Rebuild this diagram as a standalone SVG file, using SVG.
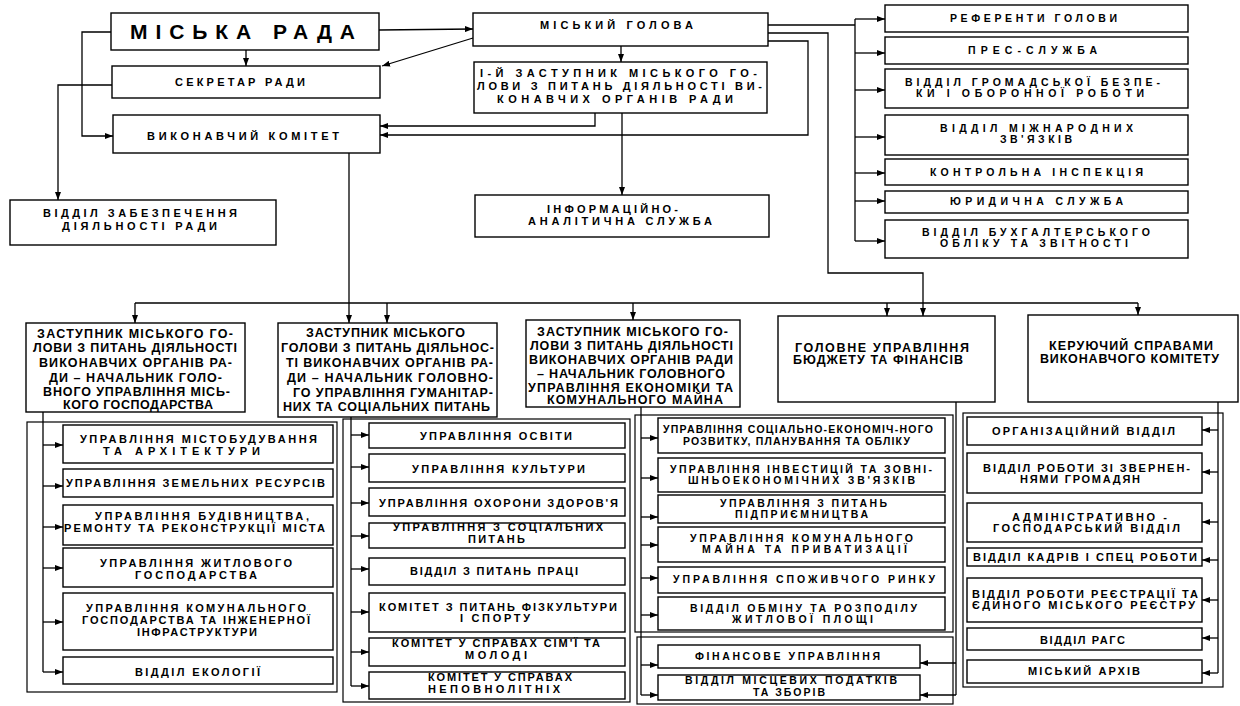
<svg xmlns="http://www.w3.org/2000/svg" width="1240" height="706" viewBox="0 0 1240 706">
<style>
.bx{fill:#fff;stroke:#000;stroke-width:1.4}
.fr{fill:none;stroke:#000;stroke-width:1.2}
.c{fill:none;stroke:#000;stroke-width:1.3}
text{font-family:"Liberation Sans","DejaVu Sans",sans-serif;font-weight:bold;fill:#000}
.f21{font-size:21px}
.f11{font-size:11px}
.f10{font-size:10.5px}
.f12{font-size:12.5px}
.fb{font-size:11px}
.fc{font-size:10.5px}
</style>
<defs>
<marker id="ah" markerWidth="8" markerHeight="6" refX="8" refY="3" orient="auto" markerUnits="userSpaceOnUse"><path d="M0,0 L8,3 L0,6 Z" fill="#000"/></marker>
</defs>
<rect width="1240" height="706" fill="#fff"/>

<g id="frames">
<rect class="fr" x="27" y="422" width="310" height="270"/>
<rect class="fr" x="343" y="419" width="287" height="283"/>
<rect class="fr" x="635" y="415" width="318" height="217"/>
<rect class="fr" x="637" y="637" width="316" height="67"/>
<rect class="fr" x="963" y="413" width="260" height="274"/>
</g>

<g id="connectors" class="c">
<path d="M379,30 L473,29" marker-end="url(#ah)"/>
<path d="M473,38 L382,66" marker-end="url(#ah)"/>
<path d="M246,50 V66" marker-end="url(#ah)"/>
<path d="M111,32 H82 V136 H113" marker-end="url(#ah)"/>
<path d="M112,85 H58 V200" marker-end="url(#ah)"/>
<path d="M621,46 V62" marker-end="url(#ah)"/>
<path d="M595,113 V126 H380" marker-end="url(#ah)"/>
<path d="M768,41 H808 V135 H380" marker-end="url(#ah)"/>
<path d="M622,113 V195" marker-end="url(#ah)"/>
<path d="M768,25 H855"/>
<path d="M855,19 V241"/>
<path d="M855,19 H885" marker-end="url(#ah)"/>
<path d="M855,53 H885" marker-end="url(#ah)"/>
<path d="M855,90 H885" marker-end="url(#ah)"/>
<path d="M855,137 H885" marker-end="url(#ah)"/>
<path d="M855,173 H885" marker-end="url(#ah)"/>
<path d="M855,201 H885" marker-end="url(#ah)"/>
<path d="M855,241 H885" marker-end="url(#ah)"/>
<path d="M768,33 H828 V273 H923 V316" marker-end="url(#ah)"/>
<path d="M349,153 V323" marker-end="url(#ah)"/>
<path d="M135,303 H1138"/>
<path d="M135,303 V323" marker-end="url(#ah)"/>
<path d="M387,303 V323" marker-end="url(#ah)"/>
<path d="M633,303 V320" marker-end="url(#ah)"/>
<path d="M887,303 V316" marker-end="url(#ah)"/>
<path d="M1138,303 V315" marker-end="url(#ah)"/>
<path d="M43,412 V672"/>
<path d="M43,445 H63" marker-end="url(#ah)"/>
<path d="M43,486 H63" marker-end="url(#ah)"/>
<path d="M43,527 H63" marker-end="url(#ah)"/>
<path d="M43,568 H63" marker-end="url(#ah)"/>
<path d="M43,622 H63" marker-end="url(#ah)"/>
<path d="M43,672 H63" marker-end="url(#ah)"/>
<path d="M351,417 V686"/>
<path d="M351,435 H369" marker-end="url(#ah)"/>
<path d="M351,467 H369" marker-end="url(#ah)"/>
<path d="M351,503 H369" marker-end="url(#ah)"/>
<path d="M351,536 H369" marker-end="url(#ah)"/>
<path d="M351,569 H369" marker-end="url(#ah)"/>
<path d="M351,612 H369" marker-end="url(#ah)"/>
<path d="M351,652 H369" marker-end="url(#ah)"/>
<path d="M351,686 H369" marker-end="url(#ah)"/>
<path d="M641,407 V695"/>
<path d="M641,438 H658" marker-end="url(#ah)"/>
<path d="M641,478 H658" marker-end="url(#ah)"/>
<path d="M641,517 H658" marker-end="url(#ah)"/>
<path d="M641,545 H658" marker-end="url(#ah)"/>
<path d="M641,578 H658" marker-end="url(#ah)"/>
<path d="M641,615 H658" marker-end="url(#ah)"/>
<path d="M641,665 H658" marker-end="url(#ah)"/>
<path d="M641,695 H658" marker-end="url(#ah)"/>
<path d="M956,402 V695"/>
<path d="M956,663 H920" marker-end="url(#ah)"/>
<path d="M956,695 H920" marker-end="url(#ah)"/>
<path d="M1218,402 V673"/>
<path d="M1218,430 H1202" marker-end="url(#ah)"/>
<path d="M1218,472 H1202" marker-end="url(#ah)"/>
<path d="M1218,522 H1202" marker-end="url(#ah)"/>
<path d="M1218,560 H1202" marker-end="url(#ah)"/>
<path d="M1218,600 H1202" marker-end="url(#ah)"/>
<path d="M1218,638 H1202" marker-end="url(#ah)"/>
<path d="M1218,673 H1202" marker-end="url(#ah)"/>
</g>

<g id="n-miska-rada"><rect class="bx" x="111" y="13" width="268" height="37"/>
<text class="f21" x="130" y="39" textLength="225">МІСЬКА РАДА</text></g>
<g id="n-sekretar"><rect class="bx" x="112" y="66" width="268" height="32"/>
<text class="f11" x="175" y="86" textLength="130">СЕКРЕТАР РАДИ</text></g>
<g id="n-vykonkom"><rect class="bx" x="113" y="115" width="267" height="38"/>
<text class="f11" x="147" y="140" textLength="192">ВИКОНАВЧИЙ КОМІТЕТ</text></g>
<g id="n-zabezpech"><rect class="bx" x="10" y="200" width="266" height="45"/>
<text class="f11" x="43" y="217" textLength="194">ВІДДІЛ ЗАБЕЗПЕЧЕННЯ</text>
<text class="f11" x="62" y="230" textLength="155">ДІЯЛЬНОСТІ РАДИ</text></g>
<g id="n-holova"><rect class="bx" x="473" y="13" width="295" height="33"/>
<text class="f11" x="540" y="29" textLength="153">МІСЬКИЙ ГОЛОВА</text></g>
<g id="n-1zast"><rect class="bx" x="474" y="62" width="293" height="51"/>
<text class="f11" x="480" y="77" textLength="277">І-Й ЗАСТУПНИК МІСЬКОГО ГО-</text>
<text class="f11" x="477" y="90" textLength="285">ЛОВИ З ПИТАНЬ ДІЯЛЬНОСТІ ВИ-</text>
<text class="f11" x="497" y="103" textLength="236">КОНАВЧИХ ОРГАНІВ РАДИ</text></g>
<g id="n-inform"><rect class="bx" x="475" y="195" width="294" height="42"/>
<text class="f11" x="547" y="213" textLength="131">ІНФОРМАЦІЙНО-</text>
<text class="f11" x="528" y="225" textLength="184">АНАЛІТИЧНА СЛУЖБА</text></g>

<g id="n-referenty"><rect class="bx" x="885" y="5" width="303" height="27"/>
<text class="f10" x="950" y="22" textLength="167">РЕФЕРЕНТИ ГОЛОВИ</text></g>
<g id="n-pres"><rect class="bx" x="885" y="37" width="303" height="27"/>
<text class="f10" x="968" y="54" textLength="129">ПРЕС-СЛУЖБА</text></g>
<g id="n-bezpeka"><rect class="bx" x="885" y="69" width="303" height="39"/>
<text class="f10" x="905" y="86" textLength="255">ВІДДІЛ ГРОМАДСЬКОЇ БЕЗПЕ-</text>
<text class="f10" x="916" y="97" textLength="228">КИ І ОБОРОННОЇ РОБОТИ</text></g>
<g id="n-mizhnar"><rect class="bx" x="885" y="115" width="303" height="40"/>
<text class="f10" x="940" y="132" textLength="193">ВІДДІЛ МІЖНАРОДНИХ</text>
<text class="f10" x="1000" y="143" textLength="72">ЗВ'ЯЗКІВ</text></g>
<g id="n-kontrol"><rect class="bx" x="885" y="159" width="303" height="26"/>
<text class="f10" x="930" y="176" textLength="213">КОНТРОЛЬНА ІНСПЕКЦІЯ</text></g>
<g id="n-yuryd"><rect class="bx" x="885" y="191" width="303" height="22"/>
<text class="f10" x="950" y="205" textLength="173">ЮРИДИЧНА СЛУЖБА</text></g>
<g id="n-bukh"><rect class="bx" x="885" y="220" width="303" height="38"/>
<text class="f10" x="922" y="236" textLength="228">ВІДДІЛ БУХГАЛТЕРСЬКОГО</text>
<text class="f10" x="940" y="247" textLength="188">ОБЛІКУ ТА ЗВІТНОСТІ</text></g>

<g id="n-dep1"><rect class="bx" x="26" y="323" width="219" height="89"/>
<text class="f12" x="37" y="338" textLength="196">ЗАСТУПНИК МІСЬКОГО ГО-</text>
<text class="f12" x="33" y="352" textLength="204">ЛОВИ З ПИТАНЬ ДІЯЛЬНОСТІ</text>
<text class="f12" x="39" y="367" textLength="193">ВИКОНАВЧИХ ОРГАНІВ РА-</text>
<text class="f12" x="49" y="382" textLength="173">ДИ – НАЧАЛЬНИК ГОЛО-</text>
<text class="f12" x="43" y="396" textLength="187">ВНОГО УПРАВЛІННЯ МІСЬ-</text>
<text class="f12" x="63" y="409" textLength="150">КОГО ГОСПОДАРСТВА</text></g>
<g id="n-dep2"><rect class="bx" x="278" y="323" width="219" height="94"/>
<text class="f12" x="306" y="337" textLength="159">ЗАСТУПНИК МІСЬКОГО</text>
<text class="f12" x="281" y="352" textLength="213">ГОЛОВИ З ПИТАНЬ ДІЯЛЬНОС-</text>
<text class="f12" x="286" y="367" textLength="207">ТІ ВИКОНАВЧИХ ОРГАНІВ РА-</text>
<text class="f12" x="287" y="382" textLength="206">ДИ – НАЧАЛЬНИК ГОЛОВНО-</text>
<text class="f12" x="293" y="397" textLength="200">ГО УПРАВЛІННЯ ГУМАНІТАР-</text>
<text class="f12" x="283" y="411" textLength="207">НИХ ТА СОЦІАЛЬНИХ ПИТАНЬ</text></g>
<g id="n-dep3"><rect class="bx" x="526" y="320" width="214" height="87"/>
<text class="f12" x="537" y="336" textLength="191">ЗАСТУПНИК МІСЬКОГО ГО-</text>
<text class="f12" x="530" y="350" textLength="203">ЛОВИ З ПИТАНЬ ДІЯЛЬНОСТІ</text>
<text class="f12" x="529" y="364" textLength="204">ВИКОНАВЧИХ ОРГАНІВ РАДИ</text>
<text class="f12" x="537" y="378" textLength="188">– НАЧАЛЬНИК ГОЛОВНОГО</text>
<text class="f12" x="528" y="392" textLength="205">УПРАВЛІННЯ  ЕКОНОМІКИ ТА</text>
<text class="f12" x="547" y="404" textLength="176">КОМУНАЛЬНОГО МАЙНА</text></g>
<g id="n-holovne"><rect class="bx" x="778" y="316" width="217" height="86"/>
<text class="f12" x="795" y="352" textLength="174">ГОЛОВНЕ УПРАВЛІННЯ</text>
<text class="f12" x="793" y="364" textLength="170">БЮДЖЕТУ ТА ФІНАНСІВ</text></g>
<g id="n-keruyuchyi"><rect class="bx" x="1028" y="315" width="210" height="87"/>
<text class="f12" x="1049" y="350" textLength="164">КЕРУЮЧИЙ СПРАВАМИ</text>
<text class="f12" x="1040" y="363" textLength="179">ВИКОНАВЧОГО КОМІТЕТУ</text></g>

<g id="n-c1-1"><rect class="bx" x="63" y="425" width="270" height="38"/>
<text class="fb" x="80" y="443" textLength="237">УПРАВЛІННЯ МІСТОБУДУВАННЯ</text>
<text class="fb" x="103" y="455" textLength="157">ТА АРХІТЕКТУРИ</text></g>
<g id="n-c1-2"><rect class="bx" x="63" y="469" width="270" height="28"/>
<text class="fb" x="66" y="487" textLength="259">УПРАВЛІННЯ ЗЕМЕЛЬНИХ РЕСУРСІВ</text></g>
<g id="n-c1-3"><rect class="bx" x="63" y="505" width="270" height="40"/>
<text class="fb" x="95" y="520" textLength="214">УПРАВЛІННЯ БУДІВНИЦТВА,</text>
<text class="fb" x="64" y="532" textLength="261">РЕМОНТУ ТА РЕКОНСТРУКЦІЇ МІСТА</text></g>
<g id="n-c1-4"><rect class="bx" x="63" y="548" width="270" height="39"/>
<text class="fb" x="100" y="567" textLength="192">УПРАВЛІННЯ ЖИТЛОВОГО</text>
<text class="fb" x="135" y="579" textLength="122">ГОСПОДАРСТВА</text></g>
<g id="n-c1-5"><rect class="bx" x="63" y="593" width="270" height="57"/>
<text class="fb" x="86" y="612" textLength="220">УПРАВЛІННЯ КОМУНАЛЬНОГО</text>
<text class="fb" x="82" y="624" textLength="228">ГОСПОДАРСТВА ТА ІНЖЕНЕРНОЇ</text>
<text class="fb" x="137" y="636" textLength="120">ІНФРАСТРУКТУРИ</text></g>
<g id="n-c1-6"><rect class="bx" x="63" y="657" width="270" height="27"/>
<text class="fb" x="135" y="676" textLength="125">ВІДДІЛ ЕКОЛОГІЇ</text></g>

<g id="n-c2-1"><rect class="bx" x="369" y="423" width="256" height="25"/>
<text class="fb" x="420" y="440" textLength="152">УПРАВЛІННЯ ОСВІТИ</text></g>
<g id="n-c2-2"><rect class="bx" x="369" y="454" width="256" height="28"/>
<text class="fb" x="412" y="473" textLength="173">УПРАВЛІННЯ КУЛЬТУРИ</text></g>
<g id="n-c2-3"><rect class="bx" x="369" y="488" width="256" height="28"/>
<text class="fb" x="379" y="507" textLength="239">УПРАВЛІННЯ ОХОРОНИ ЗДОРОВ'Я</text></g>
<g id="n-c2-4"><rect class="bx" x="369" y="523" width="256" height="25"/>
<text class="fb" x="393" y="531" textLength="210">УПРАВЛІННЯ З СОЦІАЛЬНИХ</text>
<text class="fb" x="468" y="543" textLength="57">ПИТАНЬ</text></g>
<g id="n-c2-5"><rect class="bx" x="369" y="558" width="256" height="27"/>
<text class="fb" x="410" y="575" textLength="168">ВІДДІЛ З ПИТАНЬ ПРАЦІ</text></g>
<g id="n-c2-6"><rect class="bx" x="369" y="593" width="256" height="39"/>
<text class="fb" x="379" y="611" textLength="238">КОМІТЕТ З ПИТАНЬ ФІЗКУЛЬТУРИ</text>
<text class="fb" x="460" y="622" textLength="70">І СПОРТУ</text></g>
<g id="n-c2-7"><rect class="bx" x="369" y="638" width="256" height="28"/>
<text class="fb" x="392" y="647" textLength="208">КОМІТЕТ У СПРАВАХ СІМ'Ї ТА</text>
<text class="fb" x="465" y="659" textLength="62">МОЛОДІ</text></g>
<g id="n-c2-8"><rect class="bx" x="369" y="672" width="256" height="27"/>
<text class="fb" x="428" y="681" textLength="144">КОМІТЕТ У СПРАВАХ</text>
<text class="fb" x="428" y="693" textLength="132">НЕПОВНОЛІТНІХ</text></g>

<g id="n-c3-1"><rect class="bx" x="658" y="418" width="287" height="35"/>
<text class="fc" x="663" y="433" textLength="270">УПРАВЛІННЯ СОЦІАЛЬНО-ЕКОНОМІЧ-НОГО</text>
<text class="fc" x="683" y="445" textLength="227">РОЗВИТКУ, ПЛАНУВАННЯ ТА ОБЛІКУ</text></g>
<g id="n-c3-2"><rect class="bx" x="658" y="458" width="287" height="34"/>
<text class="fc" x="670" y="473" textLength="262">УПРАВЛІННЯ ІНВЕСТИЦІЙ ТА ЗОВНІ-</text>
<text class="fc" x="688" y="484" textLength="227">ШНЬОЕКОНОМІЧНИХ ЗВ'ЯЗКІВ</text></g>
<g id="n-c3-3"><rect class="bx" x="658" y="495" width="287" height="28"/>
<text class="fc" x="720" y="507" textLength="167">УПРАВЛІННЯ З ПИТАНЬ</text>
<text class="fc" x="735" y="518" textLength="133">ПІДПРИЄМНИЦТВА</text></g>
<g id="n-c3-4"><rect class="bx" x="658" y="527" width="287" height="35"/>
<text class="fc" x="690" y="542" textLength="223">УПРАВЛІННЯ КОМУНАЛЬНОГО</text>
<text class="fc" x="702" y="553" textLength="205">МАЙНА ТА ПРИВАТИЗАЦІЇ</text></g>
<g id="n-c3-5"><rect class="bx" x="658" y="567" width="287" height="26"/>
<text class="fc" x="673" y="583" textLength="262">УПРАВЛІННЯ СПОЖИВЧОГО РИНКУ</text></g>
<g id="n-c3-6"><rect class="bx" x="658" y="597" width="287" height="33"/>
<text class="fc" x="690" y="612" textLength="227">ВІДДІЛ ОБМІНУ ТА РОЗПОДІЛУ</text>
<text class="fc" x="732" y="623" textLength="141">ЖИТЛОВОЇ ПЛОЩІ</text></g>
<g id="n-c3-7"><rect class="bx" x="658" y="645" width="262" height="23"/>
<text class="fc" x="695" y="660" textLength="185">ФІНАНСОВЕ УПРАВЛІННЯ</text></g>
<g id="n-c3-8"><rect class="bx" x="658" y="675" width="262" height="25"/>
<text class="fc" x="685" y="684" textLength="212">ВІДДІЛ МІСЦЕВИХ ПОДАТКІВ</text>
<text class="fc" x="753" y="696" textLength="72">ТА ЗБОРІВ</text></g>

<g id="n-c5-1"><rect class="bx" x="967" y="417" width="235" height="28"/>
<text class="fb" x="992" y="435" textLength="183">ОРГАНІЗАЦІЙНИЙ ВІДДІЛ</text></g>
<g id="n-c5-2"><rect class="bx" x="967" y="453" width="235" height="40"/>
<text class="fb" x="983" y="472" textLength="207">ВІДДІЛ РОБОТИ ЗІ ЗВЕРНЕН-</text>
<text class="fb" x="1020" y="483" textLength="120">НЯМИ ГРОМАДЯН</text></g>
<g id="n-c5-3"><rect class="bx" x="967" y="503" width="235" height="39"/>
<text class="fb" x="1012" y="521" textLength="155">АДМІНІСТРАТИВНО -</text>
<text class="fb" x="993" y="532" textLength="187">ГОСПОДАРСЬКИЙ ВІДДІЛ</text></g>
<g id="n-c5-4"><rect class="bx" x="967" y="548" width="235" height="18"/>
<text class="fb" x="973" y="561" textLength="224">ВІДДІЛ КАДРІВ І СПЕЦ РОБОТИ</text></g>
<g id="n-c5-5"><rect class="bx" x="967" y="578" width="235" height="44"/>
<text class="fb" x="972" y="598" textLength="226">ВІДДІЛ РОБОТИ РЕЄСТРАЦІЇ ТА</text>
<text class="fb" x="972" y="609" textLength="223">ЄДИНОГО МІСЬКОГО РЕЄСТРУ</text></g>
<g id="n-c5-6"><rect class="bx" x="967" y="628" width="235" height="22"/>
<text class="fb" x="1040" y="644" textLength="85">ВІДДІЛ РАГС</text></g>
<g id="n-c5-7"><rect class="bx" x="967" y="660" width="235" height="23"/>
<text class="fb" x="1028" y="675" textLength="112">МІСЬКИЙ АРХІВ</text></g>
</svg>
